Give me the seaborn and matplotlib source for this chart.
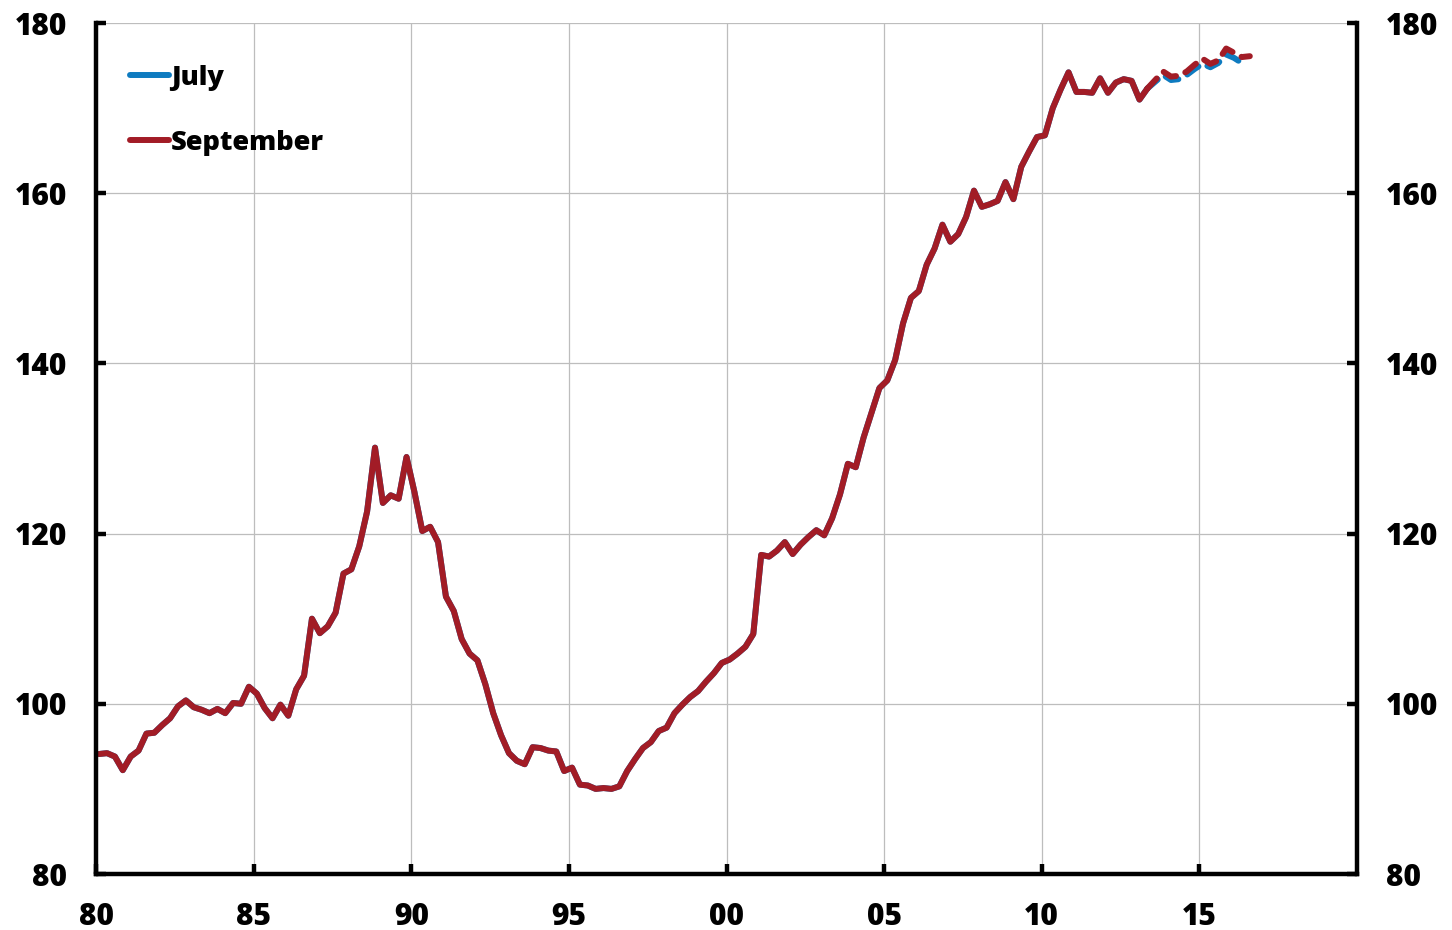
import numpy as np
import pandas as pd
import matplotlib
import matplotlib.pyplot as plt
import seaborn as sns

# Set the matplotlib backend to Agg for headless environments
matplotlib.use('Agg')

# Quarterly index values from 1980 Q1, shared history of both vintages (solid part)
history = [
    94.1, 94.2, 93.8, 92.2, 93.8, 94.5, 96.5, 96.6, 97.5, 98.3,
    99.7, 100.4, 99.6, 99.3, 98.9, 99.4, 98.9, 100.1, 100.0, 102.0,
    101.2, 99.5, 98.3, 99.9, 98.6, 101.7, 103.3, 110.0, 108.3, 109.1,
    110.7, 115.3, 115.8, 118.5, 122.6, 130.1, 123.6, 124.5, 124.1, 129.0,
    124.9, 120.3, 120.8, 119.0, 112.6, 110.9, 107.6, 105.9, 105.1, 102.3,
    98.9, 96.3, 94.2, 93.3, 92.9, 94.9, 94.8, 94.5, 94.4, 92.1,
    92.5, 90.5, 90.4, 90.0, 90.1, 90.0, 90.3, 92.1, 93.5, 94.8,
    95.5, 96.8, 97.2, 98.9, 99.9, 100.8, 101.5, 102.6, 103.6, 104.8,
    105.2, 105.9, 106.7, 108.2, 117.5, 117.3, 118.0, 119.0, 117.6, 118.7,
    119.6, 120.4, 119.8, 121.8, 124.6, 128.2, 127.8, 131.3, 134.2, 137.1,
    138.0, 140.4, 144.7, 147.7, 148.5, 151.6, 153.5, 156.3, 154.3, 155.2,
    157.2, 160.3, 158.4, 158.7, 159.1, 161.3, 159.3, 163.1, 164.9, 166.6,
    166.8, 170.0, 172.2, 174.2, 171.9, 171.9, 171.8, 173.5, 171.8, 173.0,
    173.4, 173.2, 171.0, 172.3,
]

# Forecast paths (dashed), starting from the last history quarter
july_forecast = [172.3, 173.1, 173.9, 173.3, 173.4, 173.9, 174.6, 175.2,
                 174.8, 175.3, 176.3, 175.9, 175.3]
sept_forecast = [172.3, 173.3, 174.3, 173.7, 173.8, 174.3, 175.1, 175.8,
                 175.2, 175.6, 177.0, 176.5, 176.0, 176.1]

x_ticks = [1980, 1985, 1990, 1995, 2000, 2005, 2010, 2015]
x_labels = ['80', '85', '90', '95', '00', '05', '10', '15']
y_ticks = [80, 100, 120, 140, 160, 180]

blue = '#0E7BC0'
red = '#A21C26'

# Quarter dates
hist_dates = 1980.1 + np.arange(len(history)) / 4
last = hist_dates[-1]
hist_df = pd.DataFrame({'date': hist_dates, 'value': history})
july_df = pd.DataFrame({'date': last + np.arange(len(july_forecast)) / 4, 'value': july_forecast})
sept_df = pd.DataFrame({'date': last + np.arange(len(sept_forecast)) / 4, 'value': sept_forecast})

sns.set_style('white')
plt.rcParams['font.family'] = ['Open Sans', 'DejaVu Sans']
plt.rcParams['text.color'] = 'black'

fig = plt.figure(figsize=(14.52, 9.30), dpi=100)
ax = fig.add_axes([96 / 1452, 1 - 874 / 930, (1357 - 96) / 1452, (874 - 23) / 930])

lw = 4.3
dash = (0, (2.3, 1.7))
sns.lineplot(data=hist_df, x='date', y='value', color=blue, lw=lw, label='July',
             ax=ax, solid_capstyle='round', solid_joinstyle='round')
sns.lineplot(data=july_df, x='date', y='value', color=blue, lw=lw, ax=ax,
             linestyle=dash, dash_capstyle='round')
sns.lineplot(data=hist_df, x='date', y='value', color=red, lw=lw, label='September',
             ax=ax, solid_capstyle='round', solid_joinstyle='round')
sns.lineplot(data=sept_df, x='date', y='value', color=red, lw=lw, ax=ax,
             linestyle=dash, dash_capstyle='round')

ax.set_xlim(1980, 2020)
ax.set_ylim(80, 180)
ax.set_xticks(x_ticks)
ax.set_xticklabels(x_labels)
ax.set_yticks(y_ticks)
ax.set_xlabel('')
ax.set_ylabel('')

ax.grid(True, color='#BDBDBD', lw=0.9)
ax.set_axisbelow(True)

for side in ['left', 'right', 'bottom']:
    ax.spines[side].set_visible(True)
    ax.spines[side].set_color('black')
    ax.spines[side].set_linewidth(3.2)
ax.spines['top'].set_visible(False)

ax.tick_params(axis='y', which='both', direction='in', length=7, width=3.2,
               left=True, right=True, labelleft=True, labelright=True,
               labelsize=21.5, pad=21, colors='black')
ax.tick_params(axis='x', direction='in', length=7, width=3.2, bottom=True,
               labelsize=21.5, pad=20, colors='black')
for lab in ax.get_xticklabels() + ax.get_yticklabels():
    lab.set_fontweight(800)

leg = ax.legend(loc='upper left', bbox_to_anchor=(0.027, 0.951), frameon=False,
                handlelength=1.45, handletextpad=0.05, labelspacing=1.45,
                borderpad=0, borderaxespad=0,
                prop={'size': 19.5, 'weight': 800})
for line in leg.get_lines():
    line.set_linewidth(4.3)
    line.set_linestyle('-')
for text in leg.get_texts():
    text.set_color('black')

plt.savefig('out.png', dpi=100)
